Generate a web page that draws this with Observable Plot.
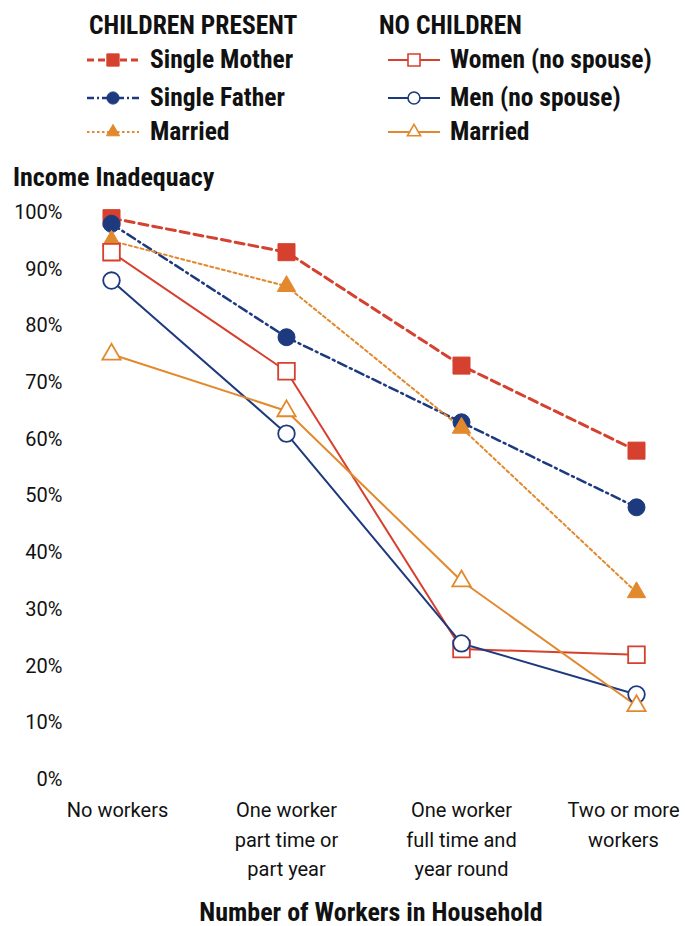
<!DOCTYPE html>
<html><head><meta charset="utf-8">
<script src="https://cdn.jsdelivr.net/npm/d3@7"></script>
<script src="https://cdn.jsdelivr.net/npm/@observablehq/plot@0.6"></script>
<style>
body{margin:0;background:#fff;font-family:"Roboto Condensed","Liberation Sans Narrow","DejaVu Sans Condensed",Roboto,sans-serif;color:#111;}
#wrap{position:relative;width:685px;height:926px;overflow:hidden;}
.t{position:absolute;font-weight:bold;white-space:nowrap;line-height:1;}
.sw{position:absolute;}
#chart{position:absolute;left:0;top:160px;}
</style></head>
<body><div id="wrap"></div>
<script>
const categories = ["No workers","One worker\npart time or\npart year","One worker\nfull time and\nyear round","Two or more\nworkers"];
const seriesNames = ["Single Mother","Single Father","Married","Women (no spouse)","Men (no spouse)","Married (no children)"];
const singleMother = [99, 93, 73, 58];
const singleFather = [98, 78, 63, 48];
const marriedChildren = [95, 87, 62, 33];
const womenNoSpouse = [93, 72, 23, 22];
const menNoSpouse = [88, 61, 24, 15];
const marriedNoChildren = [75, 65, 35, 13];
const yTicks = [0,10,20,30,40,50,60,70,80,90,100];

const RED="#d6402e", NAVY="#1e3a7e", ORANGE="#e2892e";
const styles = [
  {color:RED, dash:"9,5", w:3, symbol:"square", filled:true, r:9.6},
  {color:NAVY, dash:"9,4,2,4", w:2.5, symbol:"circle", filled:true, r:8.5},
  {color:ORANGE, dash:"3,3", w:2, symbol:"triangle", filled:true, r:6.8},
  {color:RED, dash:null, w:2, symbol:"square", filled:false, r:9.4},
  {color:NAVY, dash:null, w:2, symbol:"circle", filled:false, r:8.3},
  {color:ORANGE, dash:null, w:2, symbol:"triangle", filled:false, r:6.8}
];
const allValues = [singleMother, singleFather, marriedChildren, womenNoSpouse, menNoSpouse, marriedNoChildren];
const table = seriesNames.map((name,i)=>allValues[i].map((v,j)=>({series:name, cat:categories[j], value:v})));

const wrap = document.getElementById("wrap");
function addText(txt, x, cy, size){
  const d=document.createElement("div"); d.className="t"; d.textContent=txt;
  d.style.left=x+"px"; d.style.top=(cy-0.49*size)+"px"; d.style.fontSize=size+"px"; wrap.appendChild(d); return d;
}
function addSwatch(i, x, y){
  const s=styles[i]; const ns="http://www.w3.org/2000/svg";
  const svg=document.createElementNS(ns,"svg"); svg.setAttribute("width",54); svg.setAttribute("height",20);
  svg.setAttribute("class","sw"); svg.style.left=x+"px"; svg.style.top=(y-10)+"px";
  const l=document.createElementNS(ns,"line"); l.setAttribute("x1",1);l.setAttribute("x2",53);l.setAttribute("y1",10);l.setAttribute("y2",10);
  l.setAttribute("stroke",s.color); l.setAttribute("stroke-width",s.w); if(s.dash) l.setAttribute("stroke-dasharray",s.dash==="9,5"?"7,4":s.dash==="9,4,2,4"?"7,3,2,3":"2.5,2.5");
  svg.appendChild(l);
  const p=document.createElementNS(ns,"path");
  p.setAttribute("d", d3.symbol(s.symbol==="square"?d3.symbolSquare:s.symbol==="circle"?d3.symbolCircle:d3.symbolTriangle, Math.PI*Math.pow(s.r*0.72,2))());
  p.setAttribute("transform","translate(27,10)");
  p.setAttribute("fill", s.filled? s.color : "#fff"); p.setAttribute("stroke", s.color); p.setAttribute("stroke-width", s.filled?1:1.6);
  svg.appendChild(p); wrap.appendChild(svg);
}
addText("CHILDREN PRESENT", 89, 25, 25.5);
addText("NO CHILDREN", 379, 25, 25.5);
const rows=[59,97.5,131];
const swy=[60,98,132];
["Single Mother","Single Father","Married"].forEach((t,i)=>{addSwatch(i,86,swy[i]); addText(t,150,rows[i],25.5);});
["Women (no spouse)","Men (no spouse)","Married"].forEach((t,i)=>{addSwatch(i+3,387,swy[i]); addText(t,450,rows[i],25.5);});
addText("Income Inadequacy", 13, 177, 26);
const xt = addText("Number of Workers in Household", 0, 912, 26);
xt.style.width="742px"; xt.style.textAlign="center";

const xAxisOpts = {tickSize:0, tickPadding:17, fontSize:20, lineHeight:1.47, fill:"#111", label:null};
const marks = [
  Plot.axisY(yTicks, {tickSize:0, tickPadding:49, tickFormat:d=>d+"%", fontSize:20, fill:"#111", label:null}),
  Plot.axisX([categories[0]], {...xAxisOpts, dx:6}),
  Plot.axisX([categories[1], categories[2]], {...xAxisOpts}),
  Plot.axisX([categories[3]], {...xAxisOpts, dx:-13})
];
table.forEach((rows,i)=>{
  const s=styles[i];
  marks.push(Plot.line(rows,{x:"cat",y:"value",stroke:s.color,strokeWidth:s.w,strokeDasharray:s.dash||undefined}));
});
table.forEach((rows,i)=>{
  const s=styles[i];
  marks.push(Plot.dot(rows,{x:"cat",y:"value",symbol:()=>s.symbol,r:s.r,fill:s.filled?s.color:"#fff",stroke:s.color,strokeWidth:s.filled?1:1.8}));
});
const chart = Plot.plot({
  width:685, height:766, marginLeft:111, marginRight:49, marginTop:52, marginBottom:147,
  style:{fontFamily:'Roboto,"Liberation Sans",sans-serif', background:"transparent", overflow:"visible"},
  x:{type:"point", domain:categories, padding:0, axis:null, label:null},
  y:{domain:[0,100], axis:null, label:null},
  symbol:{type:"identity"},
  marks
});
chart.id="chart";
wrap.appendChild(chart);
</script></body></html>
